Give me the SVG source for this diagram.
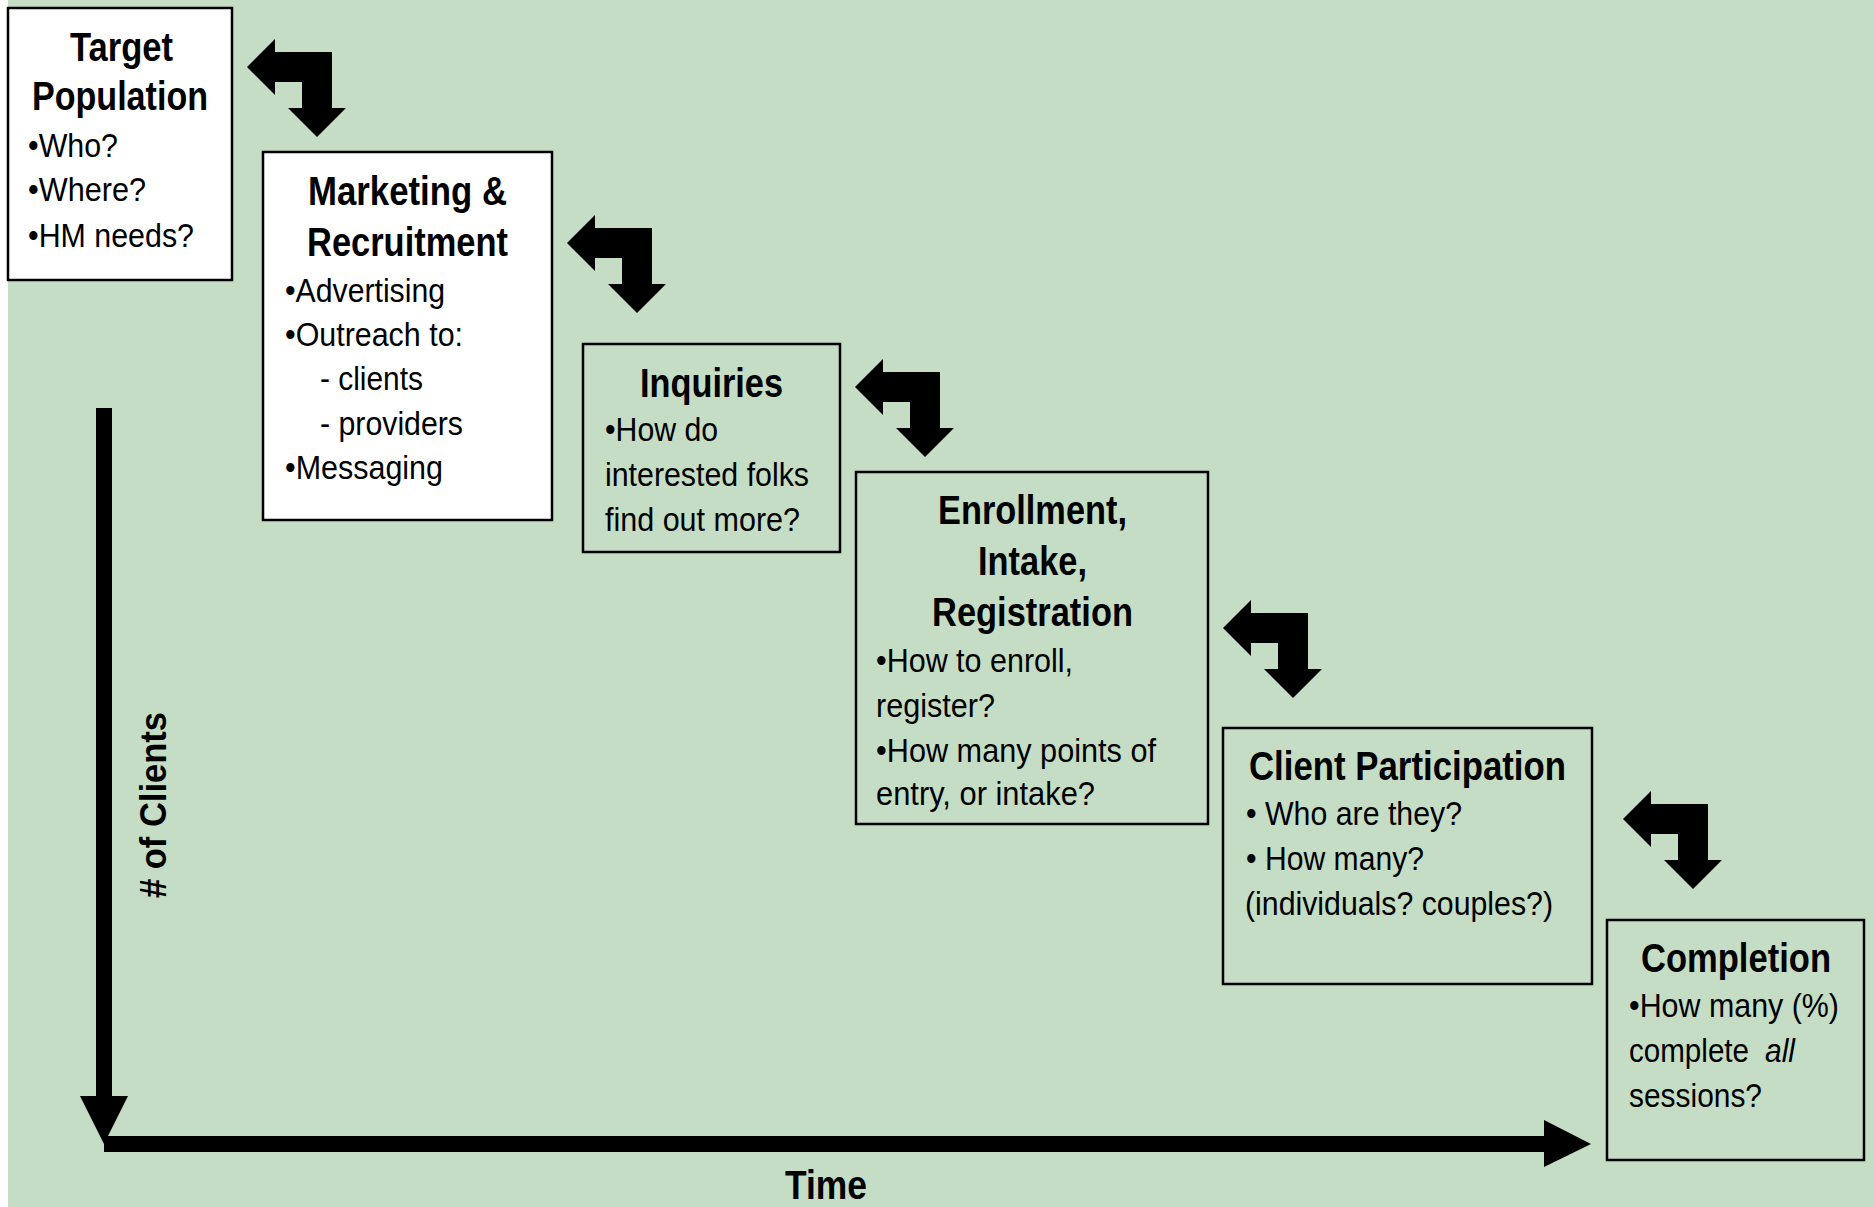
<svg xmlns="http://www.w3.org/2000/svg" width="1874" height="1207" viewBox="0 0 1874 1207">
<style>
.bg{fill:#C4DDC4}
.box{stroke:#000;stroke-width:2.5}
.w{fill:#fff}
.g{fill:none}
.t{font-family:"Liberation Sans",Arial,sans-serif;font-weight:bold;font-size:41px;fill:#000}
.b{font-family:"Liberation Sans",Arial,sans-serif;font-size:34px;fill:#000}
.i{font-style:italic}
.ax{font-family:"Liberation Sans",Arial,sans-serif;font-weight:bold;font-size:36px;fill:#000}
.arr{fill:#000}
</style>
<defs>
<path id="bend" d="M0,0 L28,-28 L28,-15 L85,-15 L85,41 L99,41 L70,70 L41,41 L55,41 L55,15 L28,15 L28,28 Z"/>
</defs>
<rect x="0" y="0" width="1874" height="1207" fill="#fff"/>
<rect class="bg" x="8" y="0" width="1866" height="1207"/>

<g id="target-population">
<rect class="box w" x="8" y="8" width="224" height="272"/>
<text class="t" x="70" y="61" textLength="103" lengthAdjust="spacingAndGlyphs">Target</text>
<text class="t" x="32" y="110" textLength="176" lengthAdjust="spacingAndGlyphs">Population</text>
<text class="b" x="28" y="157" textLength="90" lengthAdjust="spacingAndGlyphs">•Who?</text>
<text class="b" x="28" y="201" textLength="118" lengthAdjust="spacingAndGlyphs">•Where?</text>
<text class="b" x="28" y="247" textLength="166" lengthAdjust="spacingAndGlyphs">•HM needs?</text>
</g>

<g id="marketing-recruitment">
<rect class="box w" x="263" y="152" width="289" height="368"/>
<text class="t" x="308" y="205" textLength="199" lengthAdjust="spacingAndGlyphs">Marketing &amp;</text>
<text class="t" x="307" y="256" textLength="201" lengthAdjust="spacingAndGlyphs">Recruitment</text>
<text class="b" x="285" y="302" textLength="160" lengthAdjust="spacingAndGlyphs">•Advertising</text>
<text class="b" x="285" y="346" textLength="178" lengthAdjust="spacingAndGlyphs">•Outreach to:</text>
<text class="b" x="320" y="390" textLength="103" lengthAdjust="spacingAndGlyphs">- clients</text>
<text class="b" x="320" y="435" textLength="143" lengthAdjust="spacingAndGlyphs">- providers</text>
<text class="b" x="285" y="479" textLength="158" lengthAdjust="spacingAndGlyphs">•Messaging</text>
</g>

<g id="inquiries">
<rect class="box g" x="583" y="344" width="257" height="208"/>
<text class="t" x="640" y="397" textLength="143" lengthAdjust="spacingAndGlyphs">Inquiries</text>
<text class="b" x="605" y="441" textLength="113" lengthAdjust="spacingAndGlyphs">•How do</text>
<text class="b" x="605" y="486" textLength="204" lengthAdjust="spacingAndGlyphs">interested folks</text>
<text class="b" x="605" y="531" textLength="195" lengthAdjust="spacingAndGlyphs">find out more?</text>
</g>

<g id="enrollment">
<rect class="box g" x="856" y="472" width="352" height="352"/>
<text class="t" x="938" y="524" textLength="189" lengthAdjust="spacingAndGlyphs">Enrollment,</text>
<text class="t" x="978" y="575" textLength="109" lengthAdjust="spacingAndGlyphs">Intake,</text>
<text class="t" x="932" y="626" textLength="201" lengthAdjust="spacingAndGlyphs">Registration</text>
<text class="b" x="876" y="672" textLength="197" lengthAdjust="spacingAndGlyphs">•How to enroll,</text>
<text class="b" x="876" y="717" textLength="119" lengthAdjust="spacingAndGlyphs">register?</text>
<text class="b" x="876" y="762" textLength="280" lengthAdjust="spacingAndGlyphs">•How many points of</text>
<text class="b" x="876" y="805" textLength="219" lengthAdjust="spacingAndGlyphs">entry, or intake?</text>
</g>

<g id="client-participation">
<rect class="box g" x="1223" y="728" width="369" height="256"/>
<text class="t" x="1249" y="780" textLength="317" lengthAdjust="spacingAndGlyphs">Client Participation</text>
<text class="b" x="1246" y="825" textLength="216" lengthAdjust="spacingAndGlyphs">• Who are they?</text>
<text class="b" x="1246" y="870" textLength="178" lengthAdjust="spacingAndGlyphs">• How many?</text>
<text class="b" x="1245" y="915" textLength="308" lengthAdjust="spacingAndGlyphs">(individuals? couples?)</text>
</g>

<g id="completion">
<rect class="box g" x="1607" y="920" width="257" height="240"/>
<text class="t" x="1641" y="972" textLength="190" lengthAdjust="spacingAndGlyphs">Completion</text>
<text class="b" x="1629" y="1017" textLength="210" lengthAdjust="spacingAndGlyphs">•How many (%)</text>
<text class="b" x="1629" y="1062" textLength="120" lengthAdjust="spacingAndGlyphs">complete</text>
<text class="b i" x="1765" y="1062" textLength="30" lengthAdjust="spacingAndGlyphs">all</text>
<text class="b" x="1629" y="1107" textLength="133" lengthAdjust="spacingAndGlyphs">sessions?</text>
</g>

<g id="connectors">
<use href="#bend" class="arr" x="247" y="67"/>
<use href="#bend" class="arr" x="567" y="243"/>
<use href="#bend" class="arr" x="855" y="387"/>
<use href="#bend" class="arr" x="1223" y="628"/>
<use href="#bend" class="arr" x="1623" y="819"/>
</g>

<g id="axes">
<rect x="96" y="408" width="16" height="690" fill="#000"/>
<polygon points="80,1096 128,1096 104,1144" fill="#000"/>
<rect x="104" y="1136" width="1442" height="16" fill="#000"/>
<polygon points="1544,1120 1591,1144 1544,1167" fill="#000"/>
<text class="ax" transform="translate(166,805) rotate(-90)" text-anchor="middle" x="0" y="0" textLength="186" lengthAdjust="spacingAndGlyphs"># of Clients</text>
<text class="t" x="785" y="1199" textLength="82" lengthAdjust="spacingAndGlyphs">Time</text>
</g>
</svg>
